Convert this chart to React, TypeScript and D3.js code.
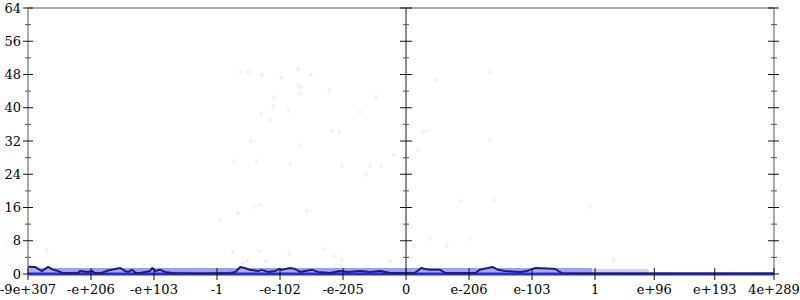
import React from "react";
import * as d3 from "d3";

// X positions are in "bucket" units: 0 is the zero float, one unit per major label step
const xTickPos = [-6, -5, -4, -3, -2, -1, 0, 1, 2, 3, 3.94, 4.9, 5.84];
const xTickLabels = ["-9e+307", "-e+206", "-e+103", "-1", "-e-102", "-e-205", "0", "e-206", "e-103", "1", "e+96", "e+193", "4e+289"];
const yMajor = [0, 8, 16, 24, 32, 40, 48, 56, 64];
const yMinor = [4, 12, 20, 28, 36, 44, 52, 60];

// smoothed count line
const lineX = [-6.0, -5.89, -5.78, -5.68, -5.6, -5.52, -5.46, -5.21, -5.17, -5.05, -4.98, -4.94, -4.83, -4.76, -4.67, -4.54, -4.46, -4.41, -4.35, -4.29, -4.22, -4.14, -4.06, -4.03, -3.98, -3.9, -3.83, -3.71, -3.27, -2.79, -2.71, -2.63, -2.56, -2.48, -2.35, -2.29, -2.19, -2.08, -2.02, -1.97, -1.84, -1.76, -1.68, -1.6, -1.49, -1.4, -1.21, -1.05, -0.92, -0.73, -0.57, -0.41, -0.25, -0.02, 0.14, 0.24, 0.3, 0.38, 0.54, 0.62, 1.1, 1.17, 1.3, 1.37, 1.46, 1.57, 1.81, 1.92, 1.97, 2.05, 2.25, 2.37, 2.48, 5.84];
const lineY = [1.75, 1.7, 0.7, 1.7, 1.0, 0.7, 0.25, 0.25, 0.7, 0.5, 0.7, 0.25, 0.25, 0.7, 1.0, 1.45, 0.7, 0.5, 1.0, 0.25, 0.25, 0.5, 0.7, 1.45, 0.7, 1.0, 0.5, 0.25, 0.15, 0.25, 0.5, 1.7, 1.45, 1.0, 0.7, 1.0, 0.5, 0.7, 1.2, 1.0, 1.45, 1.2, 0.5, 0.7, 1.0, 0.5, 0.25, 0.7, 0.5, 0.7, 0.5, 0.7, 0.25, 0.25, 0.25, 1.45, 1.2, 1.0, 1.0, 0.25, 0.25, 1.0, 1.45, 1.7, 1.0, 0.7, 0.5, 0.7, 1.0, 1.45, 1.3, 1.2, 0.1, 0.1];

// dense band of samples near zero
const bandX = [-6, 2.95];
const bandTop = [1.45, 1.45];
const bandFadeX = [2.95, 3.85];
const bandFadeTop = [1.2, 1.2];

// sparse outlier samples
const scatterX = [-2.63, -2.49, -2.29, -1.98, -1.71, -1.71, -1.68, -1.68, -2.1, -2.11, -2.3, -2.16, -1.86, -1.51, -1.22, -0.48, -0.73, -1.17, -1.06, -2.46, -1.68, -2.73, -2.37, -1.84, -1.02, -0.63, -0.57, -0.4, -0.19, 0.19, 0.27, 0.33, 0.49, 1.33, 1.33, -2.95, -2.67, -2.4, -2.32, -2.75, -2.59, -2.52, -2.33, -2.22, -1.86, -1.57, -1.3, -1.13, -1.02, -0.25, 0.87, 1.4, 2.92, 0.38, 0.13, 0.65, 1.02, -5.7, 3.29];
const scatterY = [48.6, 48.6, 47.9, 47.2, 49.3, 45.5, 44.8, 43.3, 42.6, 40.4, 38.5, 37.1, 39.2, 47.9, 44.3, 42.6, 39.0, 34.4, 34.2, 32.0, 31.0, 27.2, 27.2, 26.5, 26.0, 23.8, 26.0, 26.0, 28.6, 29.8, 34.2, 34.4, 46.7, 48.4, 32.2, 13.0, 14.7, 16.1, 16.6, 5.3, 2.6, 3.1, 5.5, 3.1, 4.8, 15.2, 6.0, 4.3, 3.4, 3.1, 17.6, 17.6, 16.1, 8.4, 6.5, 6.7, 8.4, 5.8, 3.4];

export default function App() {
  const left = 28, right = 774, top = 8, bottom = 274;
  const x = d3.scaleLinear().domain([-6, 5.84]).range([left, right]);
  const y = d3.scaleLinear().domain([0, 64]).range([bottom, top]);

  const linePts: [number, number][] = lineX.map((v, i) => [v, lineY[i]]);
  const lineGen = d3.line<[number, number]>().x(d => x(d[0])).y(d => y(d[1]));
  const areaGen = d3.area<[number, number]>().x(d => x(d[0])).y0(y(0)).y1(d => y(d[1]));
  const bandPts: [number, number][] = bandX.map((v, i) => [v, bandTop[i]]);
  const bandFadePts: [number, number][] = bandFadeX.map((v, i) => [v, bandFadeTop[i]]);

  const font = "'DejaVu Serif', serif";
  const axes = [
    { x0: left, color: "#aaa", w: 2, maj: [-5, 5], min: [-3, 3] },
    { x0: x(0), color: "#666", w: 1.5, maj: [-6, 6], min: [-3, 3] },
    { x0: right, color: "#aaa", w: 2, maj: [-6, 5], min: [-3, 3] },
  ];

  return (
    <svg width={800} height={300} style={{ position: "absolute", left: 0, top: 0 }}>
      <rect x={0} y={0} width={800} height={300} fill="#fff" />
      {/* scatter */}
      {scatterX.map((v, i) => (
        <circle key={i} cx={x(v)} cy={y(scatterY[i])} r={2} fill="#f0f0fc" />
      ))}
      {/* band */}
      <path d={areaGen(bandPts) || ""} fill="#7676ec" opacity={0.7} />
      <path d={areaGen(bandFadePts) || ""} fill="#8c8cee" opacity={0.4} />
      {/* fill under line */}
      <path d={areaGen(linePts) || ""} fill="#b4b4f4" opacity={0.6} />
      {/* top border */}
      <line x1={left} x2={right} y1={top} y2={top} stroke="#aaa" strokeWidth={2} />
      {/* y axes */}
      {axes.map((a, i) => (
        <g key={i}>
          <line x1={a.x0} x2={a.x0} y1={top} y2={bottom} stroke={a.color} strokeWidth={a.w} />
          {yMajor.map(t => (
            <line key={"M" + t} x1={a.x0 + a.maj[0]} x2={a.x0 + a.maj[1]} y1={y(t)} y2={y(t)} stroke="#111" strokeWidth={1} />
          ))}
          {yMinor.map(t => (
            <line key={"m" + t} x1={a.x0 + a.min[0]} x2={a.x0 + a.min[1]} y1={y(t)} y2={y(t)} stroke="#555" strokeWidth={1} />
          ))}
        </g>
      ))}
      {/* baseline */}
      <line x1={left} x2={right} y1={y(0)} y2={y(0)} stroke="#2b2bd8" strokeWidth={3} />
      {/* line */}
      <path d={lineGen(linePts) || ""} fill="none" stroke="#1e1e78" strokeWidth={2} strokeLinejoin="round" />
      {/* x ticks */}
      {xTickPos.map((p, i) => (
        <g key={i}>
          <line x1={x(p)} x2={x(p)} y1={bottom - 6} y2={bottom + 6} stroke="#111" strokeWidth={1} />
          <text x={x(p)} y={294} textAnchor="middle" fontFamily={font} fontSize={13} fill="#000">{xTickLabels[i]}</text>
        </g>
      ))}
      {/* y labels */}
      {yMajor.map(t => (
        <text key={t} x={21} y={y(t) + 4.5} textAnchor="end" fontFamily={font} fontSize={13} fill="#000">{t}</text>
      ))}
    </svg>
  );
}
